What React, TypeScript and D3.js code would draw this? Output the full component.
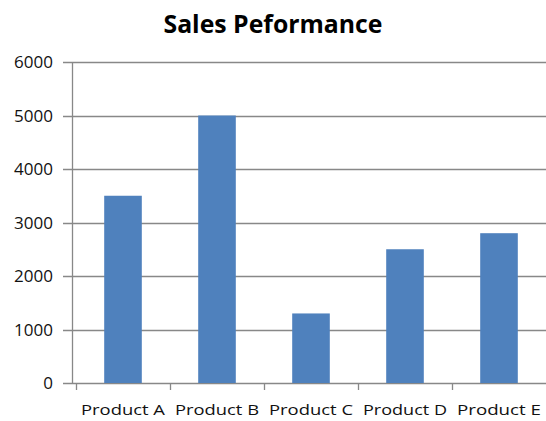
import React, { useEffect, useRef } from 'react';
import * as d3 from 'd3';

const products = ['Product A', 'Product B', 'Product C', 'Product D', 'Product E'];
const sales = [3500, 5000, 1300, 2500, 2800];
const yTicks = [0, 1000, 2000, 3000, 4000, 5000, 6000];
const chartTitle = 'Sales Peformance';

const W = 546;
const H = 421;
const font = "'Open Sans', 'Liberation Sans', sans-serif";

function drawChart(svgRef: React.RefObject<SVGSVGElement>) {
    const svg = d3.select(svgRef.current);
    svg.selectAll('*').remove();

    svg.attr('width', W).attr('height', H);

    // plot area
    const left = 72;
    const right = 546;
    const top = 62;
    const bottom = 383;

    const x = d3.scaleBand<string>()
        .domain(products)
        .range([left + 4, right])
        .paddingInner(0.6)
        .paddingOuter(0.3);

    const xTicks = d3.scaleBand<string>().domain(products).range([left + 4, right]);

    const y = d3.scaleLinear().domain([0, 6000]).range([bottom, top]);

    svg.append('rect').attr('width', W).attr('height', H).attr('fill', '#fff');

    // title
    svg.append('text')
        .attr('x', 273)
        .attr('y', 33)
        .attr('text-anchor', 'middle')
        .attr('font-family', font)
        .attr('font-weight', 'bold')
        .attr('font-size', 25)
        .attr('fill', '#000')
        .attr('textLength', 219)
        .attr('lengthAdjust', 'spacingAndGlyphs')
        .text(chartTitle);

    // gridlines + y ticks
    svg.append('g')
        .selectAll('line')
        .data(yTicks)
        .join('line')
        .attr('x1', left - 9)
        .attr('x2', right)
        .attr('y1', d => Math.round(y(d)) + 0.5)
        .attr('y2', d => Math.round(y(d)) + 0.5)
        .attr('stroke', '#888')
        .attr('stroke-width', 1.3);

    svg.append('g')
        .selectAll('text')
        .data(yTicks)
        .join('text')
        .attr('x', 53)
        .attr('y', d => y(d))
        .attr('dy', '0.36em')
        .attr('text-anchor', 'end')
        .attr('font-family', font)
        .attr('font-size', 17)
        .attr('fill', '#111')
        .text(d => d);

    // bars
    svg.append('g')
        .selectAll('rect')
        .data(sales)
        .join('rect')
        .attr('x', (d, i) => x(products[i]) as number)
        .attr('width', x.bandwidth())
        .attr('y', d => y(d))
        .attr('height', d => y(0) - y(d))
        .attr('fill', '#4F81BD');

    // y axis line
    svg.append('line')
        .attr('x1', left + 0.5)
        .attr('x2', left + 0.5)
        .attr('y1', top)
        .attr('y2', bottom + 1)
        .attr('stroke', '#888')
        .attr('stroke-width', 1.3);

    // x axis ticks
    const tickXs = [left + 4, ...products.slice(1).map(p => xTicks(p) as number)];
    svg.append('g')
        .selectAll('line')
        .data(tickXs)
        .join('line')
        .attr('x1', d => Math.round(d) + 0.5)
        .attr('x2', d => Math.round(d) + 0.5)
        .attr('y1', bottom)
        .attr('y2', bottom + 7)
        .attr('stroke', '#888')
        .attr('stroke-width', 1.3);

    svg.append('g')
        .selectAll('text')
        .data(products)
        .join('text')
        .attr('x', d => (xTicks(d) as number) + xTicks.bandwidth() / 2)
        .attr('y', 415)
        .attr('text-anchor', 'middle')
        .attr('font-family', font)
        .attr('font-size', 15)
        .attr('fill', '#111')
        .attr('textLength', 84)
        .attr('lengthAdjust', 'spacingAndGlyphs')
        .text(d => d);
}

const App = () => {
    const svg = useRef<SVGSVGElement>(null);

    useEffect(() => {
        drawChart(svg);
    }, [svg]);

    return (
        <div id="chart" style={{ position: 'absolute', left: 0, top: 0 }}>
            <svg ref={svg} style={{ display: 'block' }} />
        </div>
    );
};

export default App;
